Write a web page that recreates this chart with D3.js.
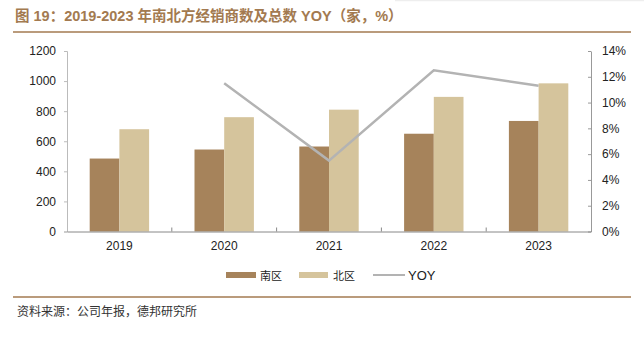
<!DOCTYPE html>
<html><head><meta charset="utf-8">
<script src="https://cdn.jsdelivr.net/npm/d3@7"></script>
<style>body{margin:0;background:#fff;}svg{display:block;font-family:"Liberation Sans",Arial,"Noto Sans CJK SC",sans-serif;}</style>
</head><body>
<script>
const categories = ["2019","2020","2021","2022","2023"];
const south = [485, 545, 565, 650, 735];
const north = [680, 760, 810, 895, 985];
const yoyYears = ["2020","2021","2022","2023"];
const yoy = [11.5, 5.5, 12.5, 11.3];
const leftTicks = [0,200,400,600,800,1000,1200];
const rightTicks = [0,2,4,6,8,10,12,14];

const W=644,H=339;
const svg=d3.select("body").append("svg").attr("width",W).attr("height",H);
const L=67,R=591,T=51,B=231.5;

// title
svg.append("text").attr("x",15).attr("y",21).attr("fill","#a37a50").attr("font-size",14.5).attr("font-weight","bold")
  .attr("font-family","'Liberation Sans','Noto Sans CJK SC',sans-serif")
  .text("图 19：2019-2023 年南北方经销商数及总数 YOY（家，%）");
svg.append("line").attr("x1",13).attr("x2",631).attr("y1",32).attr("y2",32).attr("stroke","#a37a50").attr("stroke-width",1.5);
svg.append("line").attr("x1",395).attr("x2",644).attr("y1",0.5).attr("y2",0.5).attr("stroke","#eee").attr("stroke-width",1.5);

const x=d3.scaleBand().domain(categories).range([L,R]);
const y=d3.scaleLinear().domain([0,1200]).range([B,T]);
const y2=d3.scaleLinear().domain([0,14]).range([B,T]);
const bw=29.7;

const g=svg.append("g");
g.selectAll("rect.s").data(categories).join("rect").attr("x",d=>x(d)+x.bandwidth()/2-bw)
  .attr("y",(d,i)=>y(south[i])).attr("width",bw).attr("height",(d,i)=>B-y(south[i])).attr("fill","#a6835b");
g.selectAll("rect.n").data(categories).join("rect").attr("x",d=>x(d)+x.bandwidth()/2)
  .attr("y",(d,i)=>y(north[i])).attr("width",bw).attr("height",(d,i)=>B-y(north[i])).attr("fill","#d5c49c");

// axes
const la=svg.append("g").attr("transform",`translate(${L},0)`).call(d3.axisLeft(y).tickValues(leftTicks).tickSize(3).tickPadding(8).tickFormat(d3.format("d")));
la.select(".domain").attr("stroke","#bbb");
la.selectAll(".tick line").attr("stroke","#bbb");
la.selectAll("text").attr("font-size",12).attr("fill","#222");
const ra=svg.append("g").attr("transform",`translate(${R},0)`).call(d3.axisRight(y2).tickValues(rightTicks).tickSize(0).tickPadding(11).tickFormat(d=>d+"%"));
ra.select(".domain").attr("stroke","#999");
ra.selectAll(".tick").append("line").attr("x1",-3).attr("x2",0).attr("stroke","#999");
ra.selectAll("text").attr("font-size",12).attr("fill","#222");

const xa=svg.append("g").attr("transform",`translate(0,${B})`).call(d3.axisBottom(x).tickSize(0).tickPadding(10));
xa.select(".domain").attr("stroke","#888");
xa.selectAll("text").attr("font-size",12).attr("fill","#222");
svg.selectAll("line.bt").data(categories.slice(1)).join("line").attr("class","bt")
  .attr("x1",d=>x(d)).attr("x2",d=>x(d)).attr("y1",B-4).attr("y2",B).attr("stroke","#888");

// line
const line=d3.line().x((d,i)=>x(yoyYears[i])+x.bandwidth()/2).y(d=>y2(d));
svg.append("path").datum(yoy).attr("d",line).attr("fill","none").attr("stroke","#b3b3b3").attr("stroke-width",2.5);

// legend
const lg=svg.append("g").attr("font-size",12).attr("fill","#222");
lg.append("rect").attr("x",226).attr("y",272).attr("width",30).attr("height",6).attr("fill","#a6835b");
lg.append("text").attr("x",260).attr("y",280).attr("font-family","'Noto Sans CJK SC',sans-serif").attr("font-size",11).text("南区");
lg.append("rect").attr("x",299).attr("y",272).attr("width",29).attr("height",6).attr("fill","#d5c49c");
lg.append("text").attr("x",333).attr("y",280).attr("font-family","'Noto Sans CJK SC',sans-serif").attr("font-size",11).text("北区");
lg.append("line").attr("x1",373).attr("x2",405).attr("y1",275).attr("y2",275).attr("stroke","#b3b3b3").attr("stroke-width",2);
lg.append("text").attr("x",408).attr("y",280).attr("font-size",13).text("YOY");

svg.append("line").attr("x1",13).attr("x2",631).attr("y1",297).attr("y2",297).attr("stroke","#a37a50").attr("stroke-width",1.5);
svg.append("text").attr("x",17).attr("y",316).attr("font-size",12).attr("fill","#333")
  .attr("font-family","'Noto Sans CJK SC',sans-serif").text("资料来源：公司年报，德邦研究所");
</script>
</body></html>
